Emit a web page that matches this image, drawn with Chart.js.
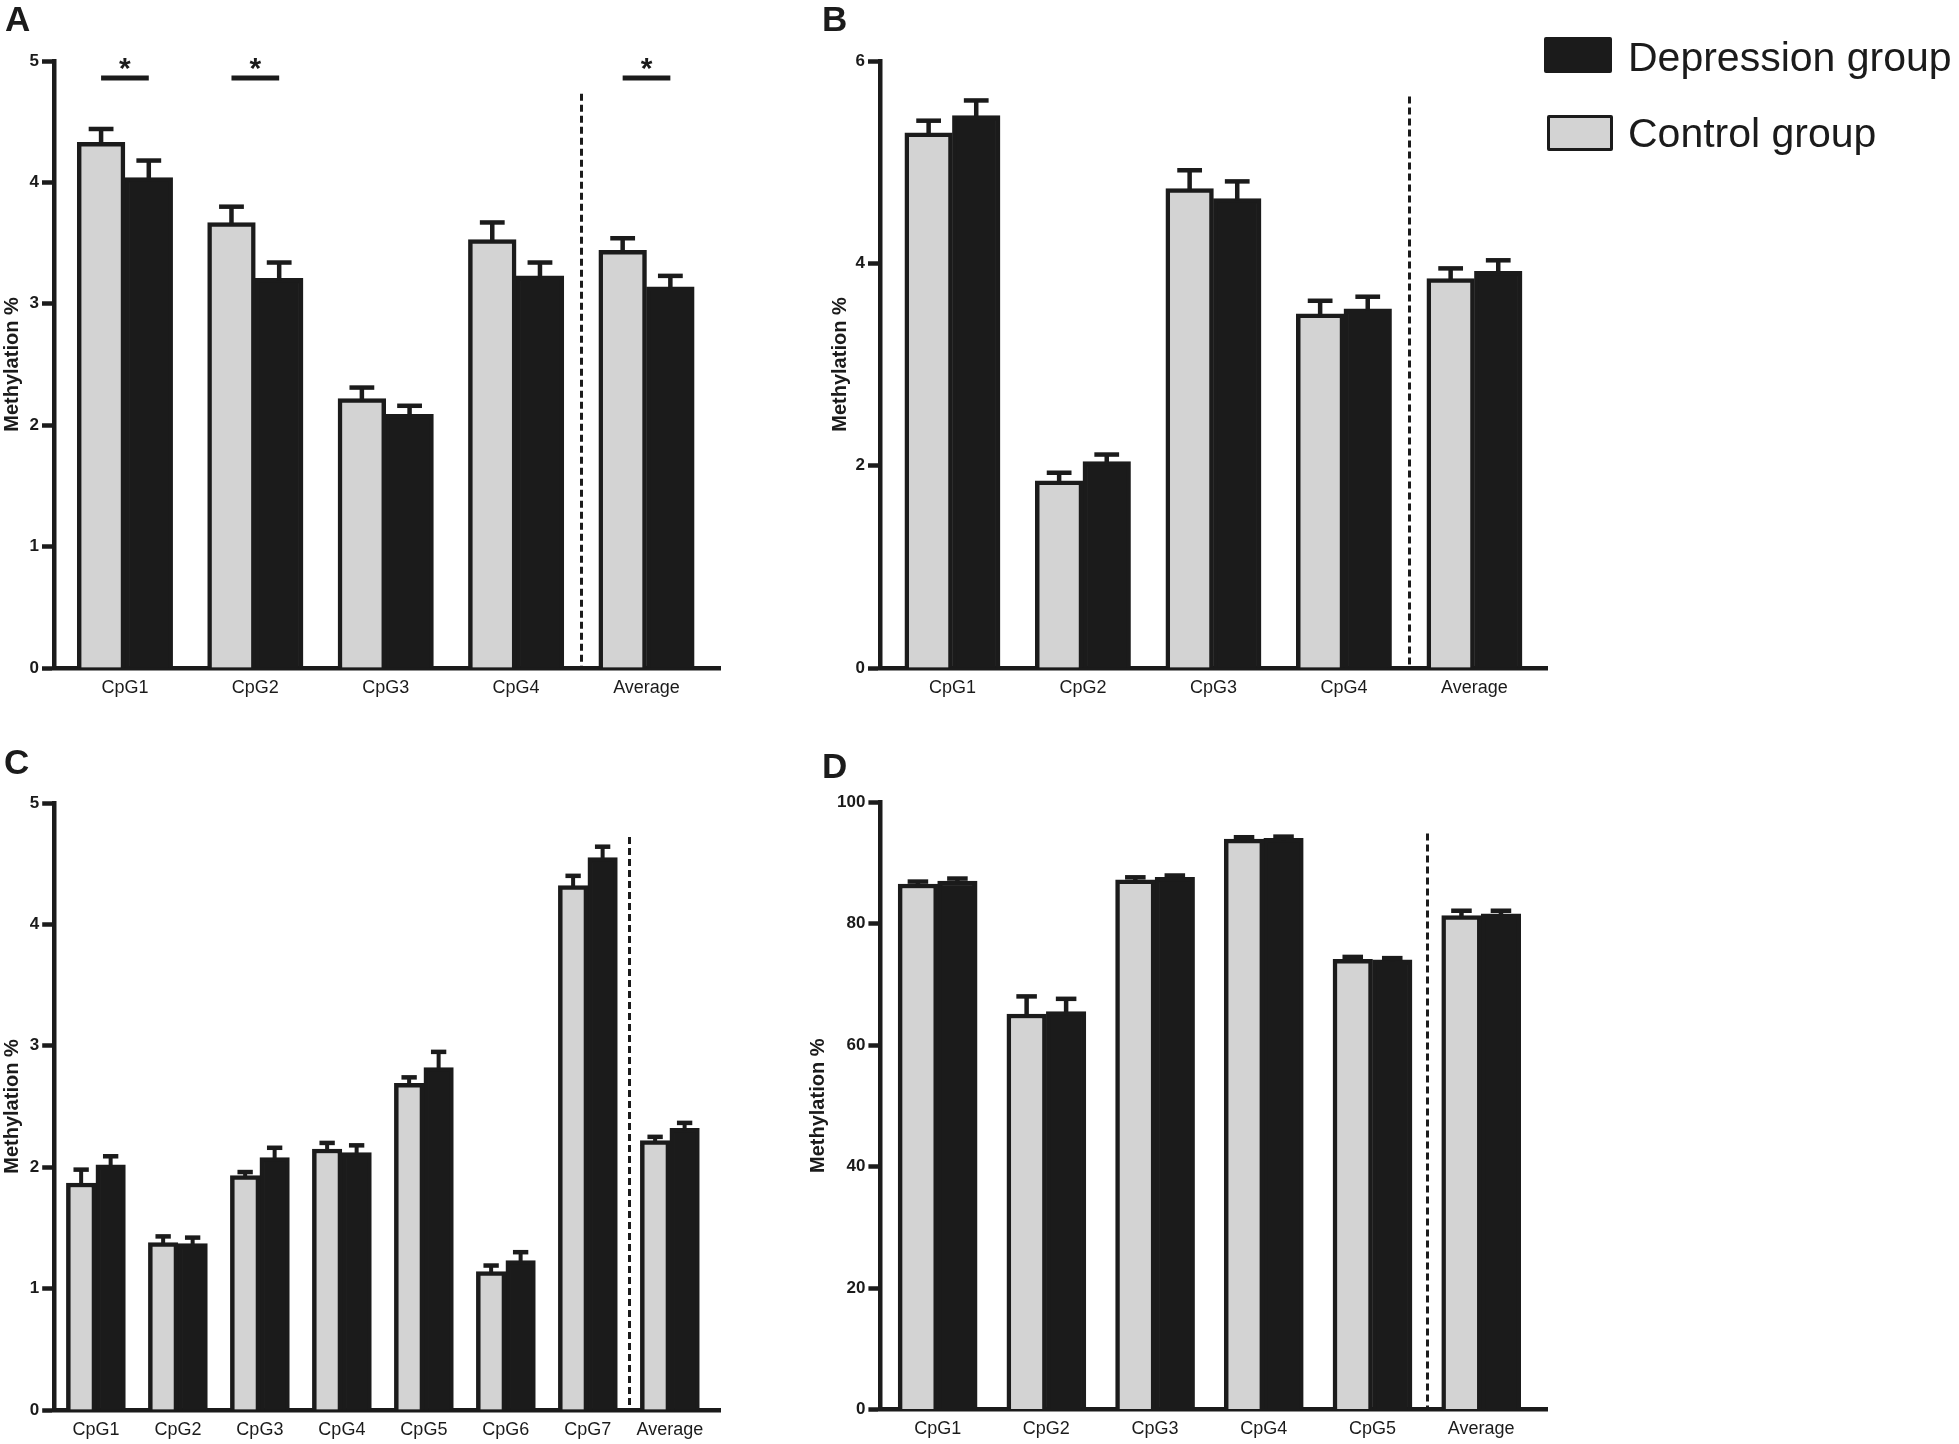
<!DOCTYPE html>
<html>
<head>
<meta charset="utf-8">
<script src="https://cdn.jsdelivr.net/npm/chart.js@4.4.1/dist/chart.umd.min.js"></script>
<style>
  html, body { margin: 0; padding: 0; background: #ffffff; }
  body { width: 1959px; height: 1444px; position: relative; overflow: hidden;
         font-family: "Liberation Sans", Arial, sans-serif; color: #1b1b1b; }
  canvas { position: absolute; }
  .plabel { position: absolute; font-weight: bold; font-size: 35px; line-height: 34px; }
  .lg-swatch { position: absolute; box-sizing: border-box; }
  .lg-text { position: absolute; font-size: 41px; line-height: 41px; white-space: nowrap; }
</style>
</head>
<body>
<canvas id="cA" width="760" height="720" style="left:0px;top:0px;"></canvas>
<canvas id="cB" width="772" height="720" style="left:828px;top:0px;"></canvas>
<canvas id="cC" width="760" height="704" style="left:0px;top:740px;"></canvas>
<canvas id="cD" width="794" height="704" style="left:806px;top:740px;"></canvas>

<div class="plabel" style="left:5px;top:2px;">A</div>
<div class="plabel" style="left:822px;top:2px;">B</div>
<div class="plabel" style="left:4px;top:745px;">C</div>
<div class="plabel" style="left:822px;top:749px;">D</div>
<div id="legend"></div>

<script>
// ---------------- data ----------------
const seriesNames = ['Depression group', 'Control group'];
const yTitle = 'Methylation %';

// Panel A
const catsA = ['CpG1', 'CpG2', 'CpG3', 'CpG4', 'Average'];
const controlA = [4.33, 3.67, 2.22, 3.53, 3.44];
const controlErrA = [0.11, 0.13, 0.09, 0.14, 0.10];
const depressionA = [4.04, 3.21, 2.09, 3.23, 3.14];
const depressionErrA = [0.14, 0.13, 0.07, 0.11, 0.09];
const sigA = ['*', '*', '', '', '*'];
const sigLevelA = 4.86;
const yTicksA = [0, 1, 2, 3, 4, 5];

// Panel B
const catsB = ['CpG1', 'CpG2', 'CpG3', 'CpG4', 'Average'];
const controlB = [5.29, 1.85, 4.74, 3.50, 3.85];
const controlErrB = [0.12, 0.08, 0.18, 0.13, 0.10];
const depressionB = [5.46, 2.04, 4.64, 3.55, 3.92];
const depressionErrB = [0.15, 0.07, 0.17, 0.12, 0.11];
const yTicksB = [0, 2, 4, 6];

// Panel C
const catsC = ['CpG1', 'CpG2', 'CpG3', 'CpG4', 'CpG5', 'CpG6', 'CpG7', 'Average'];
const controlC = [1.87, 1.38, 1.93, 2.15, 2.69, 1.14, 4.32, 2.22];
const controlErrC = [0.11, 0.05, 0.03, 0.05, 0.05, 0.05, 0.08, 0.03];
const depressionC = [2.02, 1.37, 2.08, 2.12, 2.82, 1.23, 4.55, 2.32];
const depressionErrC = [0.07, 0.05, 0.08, 0.06, 0.13, 0.07, 0.09, 0.045];
const yTicksC = [0, 1, 2, 3, 4, 5];

// Panel D
const catsD = ['CpG1', 'CpG2', 'CpG3', 'CpG4', 'CpG5', 'Average'];
const controlD = [86.5, 65.1, 87.2, 93.9, 74.1, 81.3];
const controlErrD = [0.4, 2.9, 0.4, 0.3, 0.4, 0.8];
const depressionD = [87.0, 65.5, 87.6, 94.0, 74.0, 81.6];
const depressionErrD = [0.4, 2.1, 0.3, 0.3, 0.3, 0.5];
const yTicksD = [0, 20, 40, 60, 80, 100];

// ---------------- styling ----------------
const INK = '#1b1b1b';
const GREY = '#d3d3d3';
const FONT = '"Liberation Sans", Arial, sans-serif';

function makePanel(id, d, look) {
  const pos = d.cats.map((c, i) => i + 1);
  const decor = {
    id: 'decor',
    afterDatasetsDraw(chart) {
      const ctx = chart.ctx;
      const xs = chart.scales.x, ys = chart.scales.y;
      ctx.save();
      // dashed separator before the last ("Average") group
      ctx.strokeStyle = INK;
      ctx.lineWidth = 3;
      ctx.setLineDash([7, 4]);
      const sx = Math.round(xs.getPixelForValue(d.cats.length - 0.5)) + 0.5;
      ctx.beginPath();
      ctx.moveTo(sx, ys.getPixelForValue(look.dashTop));
      ctx.lineTo(sx, ys.getPixelForValue(0));
      ctx.stroke();
      ctx.setLineDash([]);
      // one-sided error bars
      const errs = [d.controlErr, d.depressionErr];
      const vals = [d.control, d.depression];
      chart.data.datasets.forEach((ds, di) => {
        const meta = chart.getDatasetMeta(di);
        meta.data.forEach((bar, i) => {
          const yTop = ys.getPixelForValue(vals[di][i] + errs[di][i]);
          const w = bar.width;
          ctx.fillStyle = INK;
          ctx.fillRect(bar.x - look.stem / 2, yTop, look.stem, bar.y - yTop + 2);
          ctx.fillRect(bar.x - w * 0.26, yTop - look.cap / 2, w * 0.52, look.cap);
        });
      });
      // significance markers
      if (d.sig) {
        const m0 = chart.getDatasetMeta(0), m1 = chart.getDatasetMeta(1);
        d.sig.forEach((s, i) => {
          if (!s) return;
          const x0 = m0.data[i].x, x1 = m1.data[i].x;
          const y = ys.getPixelForValue(d.sigLevel);
          ctx.fillStyle = INK;
          ctx.fillRect(x0, y - 2.5, x1 - x0, 5);
          ctx.font = 'bold 30px ' + FONT;
          ctx.textAlign = 'center';
          ctx.textBaseline = 'alphabetic';
          ctx.fillText(s, (x0 + x1) / 2, y);
        });
      }
      ctx.restore();
    }
  };

  return new Chart(document.getElementById(id), {
    type: 'bar',
    data: {
      datasets: [
        { label: seriesNames[1], data: pos.map((x, i) => ({ x, y: d.control[i] })),
          backgroundColor: GREY, borderColor: INK, borderWidth: 4.5 },
        { label: seriesNames[0], data: pos.map((x, i) => ({ x, y: d.depression[i] })),
          backgroundColor: INK, borderColor: INK, borderWidth: 4.5 }
      ]
    },
    options: {
      responsive: false,
      animation: false,
      devicePixelRatio: 1,
      layout: { padding: look.padding },
      datasets: { bar: { barThickness: look.barW, grouped: true } },
      plugins: { legend: { display: false }, tooltip: { enabled: false } },
      scales: {
        x: {
          type: 'linear', min: look.xMin, max: look.xMax, offset: false,
          grid: { display: false, drawTicks: false },
          border: { display: true, width: 4.5, color: INK },
          afterBuildTicks: s => { s.ticks = pos.map(v => ({ value: v })); },
          afterFit: s => { s.height = 30; },
          ticks: { autoSkip: false, maxRotation: 0, minRotation: 0, padding: 9, color: INK,
                   font: { family: FONT, size: 18 },
                   callback: v => d.cats[Math.round(v) - 1] || '' }
        },
        y: {
          min: d.yTicks[0], max: d.yTicks[d.yTicks.length - 1],
          afterBuildTicks: s => { s.ticks = d.yTicks.map(v => ({ value: v })); },
          afterFit: s => { s.width = look.yW; },
          grid: { display: true, drawOnChartArea: false, drawTicks: true, tickLength: 12,
                  tickWidth: 4.5, tickColor: INK, color: INK },
          border: { display: true, width: 4.5, color: INK },
          ticks: { padding: 3, color: INK, font: { family: FONT, size: 17, weight: 'bold' } },
          title: { display: true, text: yTitle, color: INK, padding: 0,
                   font: { family: FONT, size: 20, weight: 'bold' } }
        }
      }
    },
    plugins: [decor]
  });
}

makePanel('cA',
  { cats: catsA, control: controlA, controlErr: controlErrA, depression: depressionA,
    depressionErr: depressionErrA, sig: sigA, sigLevel: sigLevelA, yTicks: yTicksA },
  { padding: { left: 0, top: 61, right: 39.3, bottom: 22 }, yW: 54, barW: 47.7,
    xMin: 0.456, xMax: 5.569, dashTop: 4.73, stem: 4.5, cap: 4.5 });

makePanel('cB',
  { cats: catsB, control: controlB, controlErr: controlErrB, depression: depressionB,
    depressionErr: depressionErrB, yTicks: yTicksB },
  { padding: { left: 0, top: 61, right: 53, bottom: 22 }, yW: 52, barW: 47.6,
    xMin: 0.445, xMax: 5.556, dashTop: 5.65, stem: 4.5, cap: 4.5 });

makePanel('cC',
  { cats: catsC, control: controlC, controlErr: controlErrC, depression: depressionC,
    depressionErr: depressionErrC, yTicks: yTicksC },
  { padding: { left: 0, top: 63, right: 39.3, bottom: 4 }, yW: 54.2, barW: 29.5,
    xMin: 0.4915, xMax: 8.62, dashTop: 4.72, stem: 4, cap: 4.5 });

makePanel('cD',
  { cats: catsD, control: controlD, controlErr: controlErrD, depression: depressionD,
    depressionErr: depressionErrD, yTicks: yTicksD },
  { padding: { left: 0, top: 62, right: 52.7, bottom: 4.5 }, yW: 74.4, barW: 39.5,
    xMin: 0.4733, xMax: 6.608, dashTop: 94.8, stem: 4.5, cap: 4.5 });

// ---------------- legend (HTML, built from the series names) ----------------
const legendItems = [
  { name: seriesNames[0], fill: INK, border: 'none', sw: { left: 1544, top: 37, w: 68, h: 36 }, textTop: 37 },
  { name: seriesNames[1], fill: GREY, border: '3px solid ' + INK, sw: { left: 1547, top: 115, w: 66, h: 36 }, textTop: 113 }
];
const lg = document.getElementById('legend');
legendItems.forEach(it => {
  const s = document.createElement('div');
  s.className = 'lg-swatch';
  s.style.cssText = `left:${it.sw.left}px;top:${it.sw.top}px;width:${it.sw.w}px;height:${it.sw.h}px;background:${it.fill};border:${it.border};border-radius:2px;`;
  lg.appendChild(s);
  const t = document.createElement('div');
  t.className = 'lg-text';
  t.style.left = '1628px';
  t.style.top = it.textTop + 'px';
  t.textContent = it.name;
  lg.appendChild(t);
});
</script>
</body>
</html>
